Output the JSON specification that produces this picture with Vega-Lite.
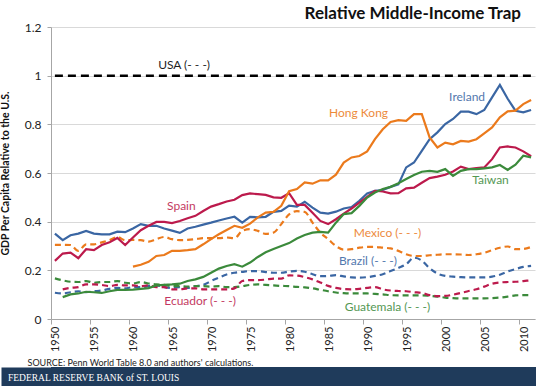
{
  "$schema": "https://vega.github.io/schema/vega-lite/v6.json",
  "padding": {"top": 5, "left": 0, "right": 0, "bottom": 0},
  "background": "white",
  "title": {"text": "Relative Middle-Income Trap", "anchor": "end", "font": "Lato", "fontSize": 17, "fontWeight": "bold", "color": "#111111", "offset": -2, "dx": -16},
  "columns": 1,
  "align": "none",
  "spacing": -1,
  "datasets": {
    "series": [
      {"year":1950,"USA":1,"Ireland":0.351,"Spain":0.239,"Mexico":0.305,"Brazil":0.108,"Guatemala":0.167},
      {"year":1951,"USA":1,"Ireland":0.324,"Spain":0.269,"Taiwan":0.090,"Mexico":0.305,"Brazil":0.105,"Ecuador":0.122,"Guatemala":0.159},
      {"year":1952,"USA":1,"Ireland":0.344,"Spain":0.273,"Taiwan":0.101,"Mexico":0.304,"Brazil":0.110,"Ecuador":0.128,"Guatemala":0.153},
      {"year":1953,"USA":1,"Ireland":0.351,"Spain":0.250,"Taiwan":0.105,"Mexico":0.280,"Brazil":0.114,"Ecuador":0.131,"Guatemala":0.152},
      {"year":1954,"USA":1,"Ireland":0.362,"Spain":0.287,"Taiwan":0.112,"Mexico":0.307,"Brazil":0.110,"Ecuador":0.142,"Guatemala":0.156},
      {"year":1955,"USA":1,"Ireland":0.351,"Spain":0.283,"Taiwan":0.110,"Mexico":0.307,"Brazil":0.114,"Ecuador":0.142,"Guatemala":0.149},
      {"year":1956,"USA":1,"Ireland":0.348,"Spain":0.304,"Taiwan":0.107,"Mexico":0.315,"Brazil":0.117,"Ecuador":0.140,"Guatemala":0.152},
      {"year":1957,"USA":1,"Ireland":0.348,"Spain":0.315,"Taiwan":0.114,"Mexico":0.324,"Brazil":0.124,"Ecuador":0.135,"Guatemala":0.152},
      {"year":1958,"USA":1,"Ireland":0.359,"Spain":0.333,"Taiwan":0.120,"Mexico":0.337,"Brazil":0.128,"Ecuador":0.140,"Guatemala":0.156},
      {"year":1959,"USA":1,"Ireland":0.357,"Spain":0.304,"Taiwan":0.120,"Mexico":0.324,"Brazil":0.126,"Ecuador":0.138,"Guatemala":0.149},
      {"year":1960,"USA":1,"Ireland":0.372,"Hong Kong":0.215,"Spain":0.335,"Taiwan":0.121,"Mexico":0.325,"Brazil":0.131,"Ecuador":0.138,"Guatemala":0.146},
      {"year":1961,"USA":1,"Ireland":0.390,"Hong Kong":0.223,"Spain":0.365,"Taiwan":0.124,"Mexico":0.324,"Brazil":0.131,"Ecuador":0.135,"Guatemala":0.152},
      {"year":1962,"USA":1,"Ireland":0.383,"Hong Kong":0.235,"Spain":0.383,"Taiwan":0.127,"Mexico":0.318,"Brazil":0.135,"Ecuador":0.138,"Guatemala":0.146},
      {"year":1963,"USA":1,"Ireland":0.383,"Hong Kong":0.259,"Spain":0.399,"Taiwan":0.138,"Mexico":0.328,"Brazil":0.138,"Ecuador":0.131,"Guatemala":0.142},
      {"year":1964,"USA":1,"Ireland":0.372,"Hong Kong":0.263,"Spain":0.399,"Taiwan":0.140,"Mexico":0.337,"Brazil":0.131,"Ecuador":0.131,"Guatemala":0.140},
      {"year":1965,"USA":1,"Ireland":0.363,"Hong Kong":0.280,"Spain":0.394,"Taiwan":0.142,"Mexico":0.328,"Brazil":0.128,"Ecuador":0.122,"Guatemala":0.135},
      {"year":1966,"USA":1,"Ireland":0.354,"Hong Kong":0.280,"Spain":0.403,"Taiwan":0.145,"Mexico":0.324,"Brazil":0.131,"Ecuador":0.122,"Guatemala":0.135},
      {"year":1967,"USA":1,"Ireland":0.372,"Hong Kong":0.283,"Spain":0.414,"Taiwan":0.156,"Mexico":0.325,"Brazil":0.128,"Ecuador":0.126,"Guatemala":0.133},
      {"year":1968,"USA":1,"Ireland":0.379,"Hong Kong":0.287,"Spain":0.424,"Taiwan":0.163,"Mexico":0.328,"Brazil":0.135,"Ecuador":0.126,"Guatemala":0.135},
      {"year":1969,"USA":1,"Ireland":0.388,"Hong Kong":0.307,"Spain":0.444,"Taiwan":0.173,"Mexico":0.332,"Brazil":0.140,"Ecuador":0.122,"Guatemala":0.135},
      {"year":1970,"USA":1,"Ireland":0.396,"Hong Kong":0.328,"Spain":0.462,"Taiwan":0.190,"Mexico":0.332,"Brazil":0.156,"Ecuador":0.122,"Guatemala":0.133},
      {"year":1971,"USA":1,"Ireland":0.405,"Hong Kong":0.348,"Spain":0.472,"Taiwan":0.207,"Mexico":0.332,"Brazil":0.170,"Ecuador":0.122,"Guatemala":0.135},
      {"year":1972,"USA":1,"Ireland":0.413,"Hong Kong":0.366,"Spain":0.483,"Taiwan":0.218,"Mexico":0.335,"Brazil":0.183,"Ecuador":0.122,"Guatemala":0.131},
      {"year":1973,"USA":1,"Ireland":0.420,"Hong Kong":0.383,"Spain":0.490,"Taiwan":0.225,"Mexico":0.332,"Brazil":0.190,"Ecuador":0.126,"Guatemala":0.131},
      {"year":1974,"USA":1,"Ireland":0.396,"Hong Kong":0.375,"Spain":0.509,"Taiwan":0.215,"Mexico":0.362,"Brazil":0.194,"Ecuador":0.156,"Guatemala":0.135},
      {"year":1975,"USA":1,"Ireland":0.420,"Hong Kong":0.392,"Spain":0.516,"Taiwan":0.232,"Mexico":0.369,"Brazil":0.197,"Ecuador":0.160,"Guatemala":0.140},
      {"year":1976,"USA":1,"Ireland":0.418,"Hong Kong":0.418,"Spain":0.513,"Taiwan":0.255,"Mexico":0.362,"Brazil":0.197,"Ecuador":0.160,"Guatemala":0.142},
      {"year":1977,"USA":1,"Ireland":0.420,"Hong Kong":0.437,"Spain":0.510,"Taiwan":0.274,"Mexico":0.350,"Brazil":0.193,"Ecuador":0.162,"Guatemala":0.140},
      {"year":1978,"USA":1,"Ireland":0.440,"Hong Kong":0.440,"Spain":0.500,"Taiwan":0.288,"Mexico":0.355,"Brazil":0.190,"Ecuador":0.166,"Guatemala":0.138},
      {"year":1979,"USA":1,"Ireland":0.444,"Hong Kong":0.465,"Spain":0.498,"Taiwan":0.300,"Mexico":0.390,"Brazil":0.190,"Ecuador":0.166,"Guatemala":0.136},
      {"year":1980,"USA":1,"Ireland":0.466,"Hong Kong":0.525,"Spain":0.517,"Taiwan":0.312,"Mexico":0.430,"Brazil":0.195,"Ecuador":0.179,"Guatemala":0.135},
      {"year":1981,"USA":1,"Ireland":0.462,"Hong Kong":0.534,"Spain":0.469,"Taiwan":0.331,"Mexico":0.443,"Brazil":0.198,"Ecuador":0.178,"Guatemala":0.132},
      {"year":1982,"USA":1,"Ireland":0.482,"Hong Kong":0.561,"Spain":0.469,"Taiwan":0.345,"Mexico":0.440,"Brazil":0.194,"Ecuador":0.172,"Guatemala":0.130},
      {"year":1983,"USA":1,"Ireland":0.458,"Hong Kong":0.556,"Spain":0.437,"Taiwan":0.355,"Mexico":0.396,"Brazil":0.184,"Ecuador":0.163,"Guatemala":0.126},
      {"year":1984,"USA":1,"Ireland":0.437,"Hong Kong":0.570,"Spain":0.403,"Taiwan":0.358,"Mexico":0.355,"Brazil":0.176,"Ecuador":0.150,"Guatemala":0.120},
      {"year":1985,"USA":1,"Ireland":0.433,"Hong Kong":0.570,"Spain":0.390,"Taiwan":0.355,"Mexico":0.328,"Brazil":0.177,"Ecuador":0.136,"Guatemala":0.114},
      {"year":1986,"USA":1,"Ireland":0.441,"Hong Kong":0.593,"Spain":0.410,"Taiwan":0.396,"Mexico":0.300,"Brazil":0.180,"Ecuador":0.128,"Guatemala":0.109},
      {"year":1987,"USA":1,"Ireland":0.454,"Hong Kong":0.643,"Spain":0.433,"Taiwan":0.431,"Mexico":0.285,"Brazil":0.175,"Ecuador":0.123,"Guatemala":0.106},
      {"year":1988,"USA":1,"Ireland":0.460,"Hong Kong":0.664,"Spain":0.454,"Taiwan":0.435,"Mexico":0.287,"Brazil":0.171,"Ecuador":0.122,"Guatemala":0.105},
      {"year":1989,"USA":1,"Ireland":0.486,"Hong Kong":0.670,"Spain":0.478,"Taiwan":0.465,"Mexico":0.293,"Brazil":0.170,"Ecuador":0.124,"Guatemala":0.105},
      {"year":1990,"USA":1,"Ireland":0.516,"Hong Kong":0.689,"Spain":0.502,"Taiwan":0.499,"Mexico":0.296,"Brazil":0.172,"Ecuador":0.128,"Guatemala":0.105},
      {"year":1991,"USA":1,"Ireland":0.527,"Hong Kong":0.739,"Spain":0.527,"Taiwan":0.520,"Mexico":0.296,"Brazil":0.177,"Ecuador":0.131,"Guatemala":0.103},
      {"year":1992,"USA":1,"Ireland":0.530,"Hong Kong":0.780,"Spain":0.524,"Taiwan":0.534,"Mexico":0.293,"Brazil":0.184,"Ecuador":0.122,"Guatemala":0.101},
      {"year":1993,"USA":1,"Ireland":0.543,"Hong Kong":0.810,"Spain":0.516,"Taiwan":0.543,"Mexico":0.290,"Brazil":0.197,"Ecuador":0.117,"Guatemala":0.098},
      {"year":1994,"USA":1,"Ireland":0.553,"Hong Kong":0.817,"Spain":0.517,"Taiwan":0.558,"Mexico":0.280,"Brazil":0.210,"Ecuador":0.115,"Guatemala":0.097},
      {"year":1995,"USA":1,"Ireland":0.623,"Hong Kong":0.814,"Spain":0.537,"Taiwan":0.575,"Mexico":0.266,"Brazil":0.225,"Ecuador":0.114,"Guatemala":0.097},
      {"year":1996,"USA":1,"Ireland":0.643,"Hong Kong":0.842,"Spain":0.540,"Taiwan":0.592,"Mexico":0.259,"Brazil":0.252,"Ecuador":0.110,"Guatemala":0.097},
      {"year":1997,"USA":1,"Ireland":0.691,"Hong Kong":0.842,"Spain":0.560,"Taiwan":0.605,"Mexico":0.259,"Brazil":0.240,"Ecuador":0.107,"Guatemala":0.097},
      {"year":1998,"USA":1,"Ireland":0.739,"Hong Kong":0.746,"Spain":0.579,"Taiwan":0.609,"Mexico":0.262,"Brazil":0.209,"Ecuador":0.098,"Guatemala":0.095},
      {"year":1999,"USA":1,"Ireland":0.767,"Hong Kong":0.705,"Spain":0.585,"Taiwan":0.605,"Mexico":0.264,"Brazil":0.187,"Ecuador":0.094,"Guatemala":0.092},
      {"year":2000,"USA":1,"Ireland":0.801,"Hong Kong":0.725,"Spain":0.593,"Taiwan":0.616,"Mexico":0.266,"Brazil":0.177,"Ecuador":0.095,"Guatemala":0.088},
      {"year":2001,"USA":1,"Ireland":0.822,"Hong Kong":0.718,"Spain":0.606,"Taiwan":0.588,"Mexico":0.266,"Brazil":0.174,"Ecuador":0.100,"Guatemala":0.086},
      {"year":2002,"USA":1,"Ireland":0.852,"Hong Kong":0.732,"Spain":0.626,"Taiwan":0.609,"Mexico":0.265,"Brazil":0.172,"Ecuador":0.107,"Guatemala":0.085},
      {"year":2003,"USA":1,"Ireland":0.852,"Hong Kong":0.729,"Spain":0.616,"Taiwan":0.616,"Mexico":0.263,"Brazil":0.171,"Ecuador":0.115,"Guatemala":0.085},
      {"year":2004,"USA":1,"Ireland":0.842,"Hong Kong":0.739,"Spain":0.620,"Taiwan":0.616,"Mexico":0.266,"Brazil":0.171,"Ecuador":0.122,"Guatemala":0.085},
      {"year":2005,"USA":1,"Ireland":0.859,"Hong Kong":0.763,"Spain":0.623,"Taiwan":0.619,"Mexico":0.272,"Brazil":0.171,"Ecuador":0.133,"Guatemala":0.085},
      {"year":2006,"USA":1,"Ireland":0.911,"Hong Kong":0.787,"Spain":0.657,"Taiwan":0.623,"Mexico":0.283,"Brazil":0.174,"Ecuador":0.145,"Guatemala":0.086},
      {"year":2007,"USA":1,"Ireland":0.962,"Hong Kong":0.829,"Spain":0.705,"Taiwan":0.633,"Mexico":0.293,"Brazil":0.182,"Ecuador":0.150,"Guatemala":0.088},
      {"year":2008,"USA":1,"Ireland":0.905,"Hong Kong":0.853,"Spain":0.709,"Taiwan":0.613,"Mexico":0.298,"Brazil":0.195,"Ecuador":0.152,"Guatemala":0.092},
      {"year":2009,"USA":1,"Ireland":0.856,"Hong Kong":0.856,"Spain":0.705,"Taiwan":0.634,"Mexico":0.287,"Brazil":0.205,"Ecuador":0.153,"Guatemala":0.097},
      {"year":2010,"USA":1,"Ireland":0.849,"Hong Kong":0.883,"Spain":0.689,"Taiwan":0.671,"Mexico":0.288,"Brazil":0.214,"Ecuador":0.156,"Guatemala":0.098},
      {"year":2011,"USA":1,"Ireland":0.859,"Hong Kong":0.900,"Spain":0.669,"Taiwan":0.664,"Mexico":0.296,"Brazil":0.218,"Ecuador":0.159,"Guatemala":0.098}
    ],
    "labels": [
      {"country":"USA","year":1966.55,"value":1.042,"label":"USA (- - -)"},
      {"country":"Spain","year":1966.2,"value":0.466,"label":"Spain"},
      {"country":"Hong Kong","year":1988.9,"value":0.845,"label":"Hong Kong"},
      {"country":"Ireland","year":2002.8,"value":0.911,"label":"Ireland"},
      {"country":"Taiwan","year":2005.8,"value":0.572,"label":"Taiwan"},
      {"country":"Mexico","year":1992.6,"value":0.352,"label":"Mexico (- - -)"},
      {"country":"Brazil","year":1990.1,"value":0.24,"label":"Brazil (- - -)"},
      {"country":"Ecuador","year":1968.6,"value":0.076,"label":"Ecuador (- - -)"},
      {"country":"Guatemala","year":1992.6,"value":0.051,"label":"Guatemala (- - -)"}
    ]
  },
  "concat": [
    {
      "width": 484,
      "height": 292,
      "encoding": {
        "x": {
          "field": "year", "type": "quantitative",
          "scale": {"domain": [1949.5, 2011.5], "nice": false, "zero": false},
          "axis": {
            "values": [1950,1955,1960,1965,1970,1975,1980,1985,1990,1995,2000,2005,2010],
            "format": "d", "labelAngle": 270, "labelFont": "Lato", "labelFontSize": 11, "labelColor": "#222222",
            "labelFlush": false, "labelOverlap": false, "labelPadding": 2,
            "tickSize": 5, "tickColor": "#a6a6a6", "domainColor": "#a6a6a6", "tickOffset": -4, "labelOffset": 5,
            "grid": false,
            "title": "SOURCE: Penn World Table 8.0 and authors' calculations.",
            "titleFont": "Lato", "titleFontSize": 9, "titleFontWeight": "normal", "titleColor": "#222222",
            "titleAnchor": "start", "titleAlign": "left", "titleX": -24, "titlePadding": 7
          }
        },
        "y": {
          "field": "value", "type": "quantitative",
          "scale": {"domain": [0, 1.2], "nice": false},
          "axis": {
            "values": [0, 0.2, 0.4, 0.6, 0.8, 1, 1.2], "format": "~g",
            "labelFont": "Lato", "labelFontSize": 12, "labelColor": "#222222", "labelFlush": false, "labelPadding": 6,
            "tickSize": 4, "tickColor": "#a6a6a6", "domainColor": "#a6a6a6",
            "grid": true, "gridColor": "#d9d9d9",
            "title": "GDP Per Capita Relative to the U.S.",
            "titleFont": "Lato", "titleFontSize": 10.5, "titleFontWeight": "bold", "titleColor": "#111111", "titlePadding": 14
          }
        },
        "color": {
          "field": "country", "type": "nominal",
          "scale": {
            "domain": ["USA","Ireland","Hong Kong","Spain","Taiwan","Mexico","Brazil","Ecuador","Guatemala"],
            "range": ["#000000","#3a66a3","#eb7a1c","#bc1a4c","#3b8a3b","#eb7a1c","#3a66a3","#bc1a4c","#3b8a3b"]
          },
          "legend": null
        }
      },
      "layer": [
        {
          "data": {"name": "series"},
          "transform": [
            {"fold": ["Mexico","Brazil","Ecuador","Guatemala"], "as": ["country","value"]},
            {"filter": "isValid(datum.value)"}
          ],
          "mark": {"type": "line", "strokeWidth": 2.2, "strokeDash": [6, 4], "interpolate": "monotone"}
        },
        {
          "data": {"name": "series"},
          "transform": [
            {"fold": ["Ireland","Hong Kong","Spain","Taiwan"], "as": ["country","value"]},
            {"filter": "isValid(datum.value)"}
          ],
          "mark": {"type": "line", "strokeWidth": 2.2}
        },
        {
          "data": {"name": "series"},
          "transform": [
            {"fold": ["USA"], "as": ["country","value"]},
            {"filter": "isValid(datum.value)"}
          ],
          "mark": {"type": "line", "strokeWidth": 2.5, "strokeDash": [8, 5]}
        },
        {
          "data": {"name": "labels"},
          "mark": {"type": "text", "font": "Lato", "fontSize": 12, "baseline": "middle", "align": "center", "opacity": 0.88},
          "encoding": {"text": {"field": "label"}}
        }
      ]
    },
    {
      "width": 486,
      "height": 19,
      "view": {"fill": "#1f3b5b", "stroke": null},
      "data": {"values": [{"label": "FEDERAL RESERVE BANK of ST. LOUIS"}]},
      "mark": {"type": "text", "align": "left", "baseline": "middle", "dx": -43, "dy": 1, "font": "Liberation Serif", "fontSize": 9.5, "color": "#ffffff"},
      "encoding": {
        "x": {"datum": 0, "type": "quantitative", "scale": {"domain": [0, 1]}, "axis": null},
        "y": {
          "datum": 0.5, "type": "quantitative", "scale": {"domain": [0, 1]},
          "axis": {"orient": "left", "domain": true, "domainColor": "#1f3b5b", "domainWidth": 50, "domainCap": "butt", "offset": 25, "ticks": false, "labels": false, "grid": false, "title": null}
        },
        "text": {"field": "label"}
      }
    }
  ],
  "config": {"view": {"stroke": null}}
}
